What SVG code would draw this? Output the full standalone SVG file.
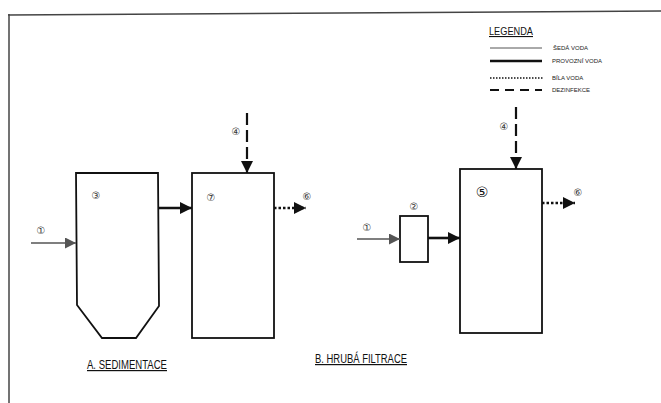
<svg xmlns="http://www.w3.org/2000/svg" width="661" height="403" viewBox="0 0 661 403">
<style>
.bg{fill:#fff}
.frame{stroke:#444;stroke-width:1.5;fill:none}
.node{fill:#fff;stroke:#111;stroke-width:1.8;stroke-linejoin:miter}
.grey{stroke:#555;stroke-width:1.6;fill:none}
.thick{stroke:#111;stroke-width:2.6;fill:none}
.dot{stroke:#111;stroke-width:2.6;fill:none;stroke-dasharray:2.5 2}
.dash{stroke:#111;stroke-width:2.2;fill:none;stroke-dasharray:12 5}
.num{font-family:"DejaVu Sans",sans-serif;font-size:10px;fill:#333;text-anchor:middle}
.big{font-size:14px;fill:#111}
.title{font-family:"Liberation Sans",Arial,sans-serif;font-size:12px;fill:#111;text-decoration:underline}
.leg{font-family:"Liberation Sans",Arial,sans-serif;font-size:6px;fill:#222}
</style>
<defs>
<marker id="ah" viewBox="0 0 12 12" refX="12" refY="6" markerWidth="12" markerHeight="12" markerUnits="userSpaceOnUse" orient="auto"><path d="M0,0 L12,6 L0,12 z" fill="#111"/></marker>
<marker id="ahg" viewBox="0 0 11 11" refX="11" refY="5.5" markerWidth="11" markerHeight="11" markerUnits="userSpaceOnUse" orient="auto"><path d="M0,0 L11,5.5 L0,11 z" fill="#555"/></marker>
</defs>
<rect class="bg" x="0" y="0" width="661" height="403"/>
<g id="frame">
<path class="frame" d="M8,15 L661,11"/>
<path class="frame" d="M9,14 L9,403"/>
</g>
<g id="legend">
<text x="489" y="35" style="font-family:'Liberation Sans',Arial,sans-serif;font-size:11px;fill:#111;text-decoration:underline" textLength="44" lengthAdjust="spacingAndGlyphs">LEGENDA</text>
<path class="grey" style="stroke-width:1" d="M490,48 L542,48"/>
<text class="leg" x="553" y="50">ŠEDÁ VODA</text>
<path class="thick" d="M490,61 L542,61"/>
<text class="leg" x="552" y="63">PROVOZNÍ VODA</text>
<path class="dot" style="stroke-width:1.6;stroke-dasharray:1.5 1.5" d="M490,78 L543,78"/>
<text class="leg" x="552" y="80">BÍLA VODA</text>
<path class="dash" style="stroke-dasharray:9 6" d="M490,90 L542,90"/>
<text class="leg" x="552" y="92">DEZINFEKCE</text>
</g>
<g id="tank3">
<path class="node" d="M76,173 L158,173 L159,306 L136,338 L102,338 L77,305 Z"/>
<text class="num" x="96" y="199">③</text>
</g>
<g id="box7">
<rect class="node" x="192" y="173" width="82" height="165"/>
<text class="num" x="211" y="201">⑦</text>
</g>
<g id="box2">
<rect class="node" x="400" y="216" width="28" height="46"/>
<text class="num" x="414" y="210">②</text>
</g>
<g id="box5">
<rect class="node" x="460" y="169" width="82" height="164"/>
<text class="num big" x="482" y="197">⑤</text>
</g>
<g id="connectors">
<path class="grey" marker-end="url(#ahg)" d="M31,243 L76,243"/>
<path class="thick" marker-end="url(#ah)" d="M159,208 L192,208"/>
<path class="dot" marker-end="url(#ah)" d="M274,208 L306,208"/>
<path class="dash" marker-end="url(#ah)" d="M247,113 L247,173"/>
<path class="grey" marker-end="url(#ahg)" d="M357,239 L400,239"/>
<path class="thick" marker-end="url(#ah)" d="M428,238 L460,238"/>
<path class="dash" marker-end="url(#ah)" d="M516,107 L516,169"/>
<path class="dot" marker-end="url(#ah)" d="M542,203 L575,203"/>
</g>
<g id="labels">
<text class="num" x="41" y="234">①</text>
<text class="num" x="236" y="135">④</text>
<text class="num" x="307" y="200">⑥</text>
<text class="num" x="367" y="231">①</text>
<text class="num" x="504" y="130">④</text>
<text class="num" x="578" y="196">⑥</text>
<text class="title" x="87" y="369" textLength="80" lengthAdjust="spacingAndGlyphs">A. SEDIMENTACE</text>
<text class="title" x="315" y="363" textLength="92" lengthAdjust="spacingAndGlyphs">B. HRUBÁ FILTRACE</text>
</g>
</svg>
